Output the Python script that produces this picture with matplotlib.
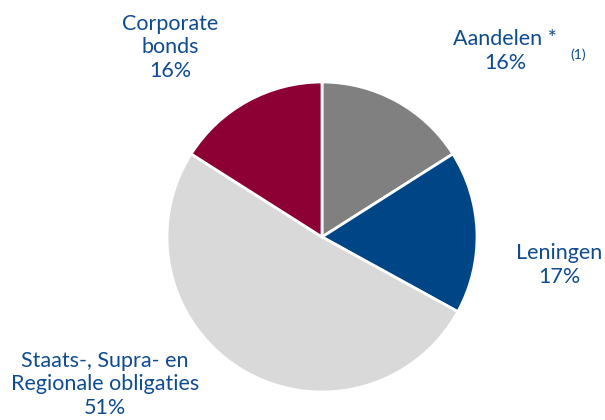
import matplotlib
matplotlib.use("Agg")
import matplotlib.pyplot as plt

labels = ["Aandelen *", "Leningen", "Staats-, Supra- en\nRegionale obligaties", "Corporate\nbonds"]
values = [16, 17, 51, 16]
colors = ["#808080", "#004586", "#d9d9d9", "#8c0033"]
text_color = "#0f4c8f"

fig = plt.figure(figsize=(6.05, 4.2), dpi=100)
cx, cy, r = 322, 183, 155
ax = fig.add_axes([(cx - r) / 605, (cy - r) / 420, 2 * r / 605, 2 * r / 420])
ax.pie(values, colors=colors, startangle=90, counterclock=False, radius=1,
       wedgeprops=dict(edgecolor="white", linewidth=2))
ax.set_xlim(-1, 1)
ax.set_ylim(-1, 1)
ax.set_aspect("equal")
ax.axis("off")

font = "Lato"
fs = 15.5
pos = [(1.18, 1.2), (1.53, -0.18), (-1.4, -0.95), (-0.98, 1.225)]
for lab, v, (x, y) in zip(labels, values, pos):
    ax.text(x, y, f"{lab}\n{v}%", ha="center", va="center", fontsize=fs,
            color=text_color, family=font, linespacing=1.22, clip_on=False)
ax.text(1.655, 1.175, "(1)", ha="center", va="center", fontsize=10,
        color=text_color, family=font, clip_on=False)

fig.savefig("out.png", dpi=100)
